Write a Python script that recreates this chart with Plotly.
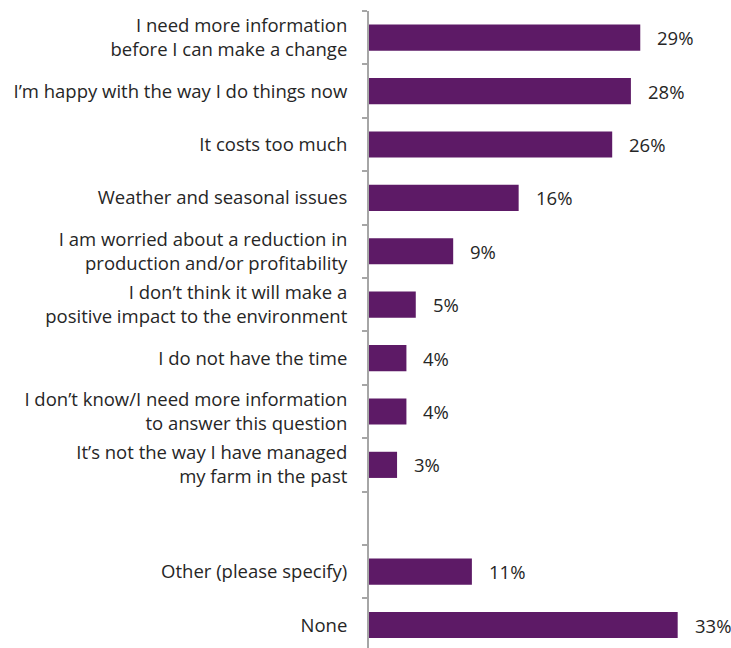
import plotly.graph_objects as go

# Survey responses: reasons for not making a change
categories = [
    "I need more information<br>before I can make a change",
    "I’m happy with the way I do things now",
    "It costs too much",
    "Weather and seasonal issues",
    "I am worried about a reduction in<br>production and/or profitability",
    "I don’t think it will make a<br>positive impact to the environment",
    "I do not have the time",
    "I don’t know/I need more information<br>to answer this question",
    "It’s not the way I have managed<br>my farm in the past",
    "",
    "Other (please specify)",
    "None",
]
values = [29, 28, 26, 16, 9, 5, 4, 4, 3, None, 11, 33]

positions = list(range(len(categories)))
bar_x = [v if v is not None else 0 for v in values]

BAR_COLOR = "#5D1A66"
TEXT_COLOR = "#262626"
FONT = "Open Sans"
SIZE = 18.5

fig = go.Figure(
    go.Bar(
        x=bar_x,
        y=positions,
        orientation="h",
        marker=dict(color=BAR_COLOR, line=dict(width=0)),
        width=0.49,
        hoverinfo="skip",
    )
)

for pos, val in zip(positions, values):
    if val is None:
        continue
    fig.add_annotation(
        x=val, y=pos, text=f"{val}%", showarrow=False,
        xanchor="left", yanchor="middle", xshift=15,
        font=dict(family=FONT, size=SIZE, color=TEXT_COLOR),
    )

fig.update_layout(
    width=731, height=648,
    margin=dict(l=369, r=0, t=11, b=0),
    paper_bgcolor="white", plot_bgcolor="white",
    showlegend=False,
    font=dict(family=FONT, size=SIZE, color=TEXT_COLOR),
    xaxis=dict(range=[0, 38.7], visible=False, fixedrange=True),
    yaxis=dict(
        range=[11.43, -0.5],
        tickmode="array", tickvals=positions, ticktext=categories,
        ticks="", showgrid=False, zeroline=False,
        showline=True, linecolor="#A6A6A6", linewidth=2,
        ticklabelstandoff=16,
        minor=dict(tick0=0.5, dtick=1, ticks="outside", ticklen=5,
                   tickcolor="#A6A6A6", tickwidth=2, showgrid=False),
        tickfont=dict(family=FONT, size=SIZE, color=TEXT_COLOR),
    ),
)

fig.write_html("out.html")
